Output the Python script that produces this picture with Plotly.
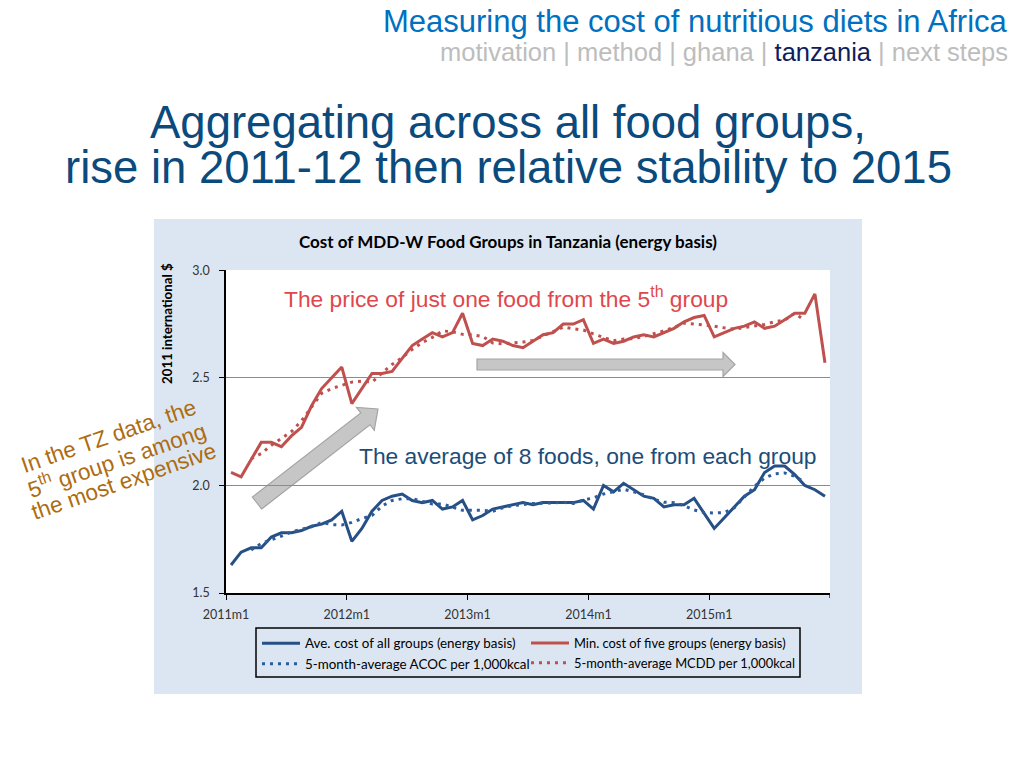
import math
import numpy as np
import plotly.graph_objects as go

# ---------------- data ----------------
months = [f"{y}m{m}" for y in range(2011, 2016) for m in range(1, 13)]

ave_cost_all = [1.63, 1.69, 1.71, 1.71, 1.76, 1.78, 1.78, 1.79, 1.81, 1.82,
                1.84, 1.88, 1.74, 1.80, 1.88, 1.93, 1.95, 1.96, 1.93, 1.92,
                1.93, 1.89, 1.90, 1.93, 1.84, 1.86, 1.89, 1.90, 1.91, 1.92,
                1.91, 1.92, 1.92, 1.92, 1.92, 1.93, 1.89, 2.00, 1.97, 2.01,
                1.98, 1.95, 1.94, 1.90, 1.91, 1.91, 1.94, 1.87, 1.80, 1.85,
                1.90, 1.95, 1.98, 2.06, 2.09, 2.09, 2.05, 2.00, 1.98, 1.95]

min_cost_five = [2.06, 2.04, 2.12, 2.20, 2.20, 2.18, 2.23, 2.27, 2.37, 2.45,
                 2.50, 2.55, 2.38, 2.45, 2.52, 2.52, 2.53, 2.59, 2.65, 2.68,
                 2.71, 2.69, 2.71, 2.80, 2.66, 2.65, 2.68, 2.67, 2.65, 2.64,
                 2.67, 2.70, 2.71, 2.75, 2.75, 2.77, 2.66, 2.68, 2.66, 2.67,
                 2.69, 2.70, 2.69, 2.71, 2.73, 2.76, 2.78, 2.79, 2.69, 2.71,
                 2.73, 2.74, 2.76, 2.73, 2.74, 2.77, 2.80, 2.80, 2.89, 2.57]

acoc_5m = [None, None, 1.700, 1.730, 1.748, 1.764, 1.784, 1.796, 1.808, 1.828,
           1.818, 1.816, 1.828, 1.846, 1.860, 1.904, 1.930, 1.938, 1.938, 1.926,
           1.914, 1.914, 1.898, 1.884, 1.884, 1.884, 1.880, 1.896, 1.906, 1.912,
           1.916, 1.918, 1.918, 1.922, 1.916, 1.932, 1.942, 1.960, 1.970, 1.982,
           1.970, 1.956, 1.936, 1.922, 1.920, 1.906, 1.886, 1.874, 1.872, 1.874,
           1.896, 1.948, 1.996, 2.034, 2.054, 2.058, 2.042, 2.014, None, None]

mcdd_5m = [None, None, 2.124, 2.148, 2.186, 2.216, 2.250, 2.300, 2.364, 2.428,
           2.450, 2.466, 2.480, 2.484, 2.480, 2.522, 2.562, 2.594, 2.632, 2.664,
           2.688, 2.718, 2.714, 2.702, 2.700, 2.692, 2.662, 2.658, 2.662, 2.666,
           2.674, 2.694, 2.716, 2.736, 2.728, 2.722, 2.704, 2.688, 2.672, 2.680,
           2.682, 2.692, 2.704, 2.718, 2.734, 2.754, 2.750, 2.746, 2.740, 2.732,
           2.726, 2.734, 2.740, 2.748, 2.760, 2.768, 2.800, 2.766, None, None]

tick_months = ["2011m1", "2012m1", "2013m1", "2014m1", "2015m1"]
y_ticks = [1.5, 2.0, 2.5, 3.0]

side_note_lines = ["In the TZ data, the", "5<sup>th</sup> group is among", "the most expensive"]

# ---------------- layout geometry (page pixels) ----------------
OFF = 8                      # default body margin of the html page
W, H = 1024 - 2 * OFF, 768 - 2 * OFF
L, R, T, B = 226, 830, 270, 593   # plot area in page pixels


def P(x):
    return (x - OFF) / W


def Q(y):
    return 1 - (y - OFF) / H


BLUE = "#264f86"
RED = "#c0504d"
CHART_BG = "#dce6f2"
FONT_CHART = "Lato"
FONT_SLIDE = "Liberation Sans"

xpos = np.arange(len(months)) + 0.5

fig = go.Figure()
fig.add_trace(go.Scatter(x=xpos, y=ave_cost_all, mode="lines", text=months,
                         name="Ave. cost of all groups (energy basis)", legend="legend",
                         line=dict(color=BLUE, width=3)))
fig.add_trace(go.Scatter(x=xpos, y=min_cost_five, mode="lines", text=months,
                         name="Min. cost of five groups (energy basis)", legend="legend2",
                         line=dict(color=RED, width=3)))
fig.add_trace(go.Scatter(x=xpos, y=acoc_5m, mode="lines", text=months,
                         name="5-month-average ACOC per 1,000kcal", legend="legend",
                         line=dict(color="#2d5c9a", width=3, dash="3px,5px")))
fig.add_trace(go.Scatter(x=xpos, y=mcdd_5m, mode="lines", text=months,
                         name="5-month-average MCDD per 1,000kcal", legend="legend2",
                         line=dict(color=RED, width=3, dash="3px,5px")))

tick_idx = [months.index(m) for m in tick_months]


def arrow_path(x0, y0, x1, y1, sw, hw, hl):
    dx, dy = x1 - x0, y1 - y0
    ln = math.hypot(dx, dy)
    ux, uy = dx / ln, dy / ln
    nx, ny = -uy, ux
    bx, by = x1 - ux * hl, y1 - uy * hl
    pts = [(x0 + nx * sw / 2, y0 + ny * sw / 2), (bx + nx * sw / 2, by + ny * sw / 2),
           (bx + nx * hw / 2, by + ny * hw / 2), (x1, y1),
           (bx - nx * hw / 2, by - ny * hw / 2), (bx - nx * sw / 2, by - ny * sw / 2),
           (x0 - nx * sw / 2, y0 - ny * sw / 2)]
    return "M " + " L ".join(f"{P(a):.5f},{Q(b):.5f}" for a, b in pts) + " Z"


shapes = [
    dict(type="rect", xref="paper", yref="paper", x0=P(154), x1=P(862),
         y0=Q(694), y1=Q(219), fillcolor=CHART_BG, line=dict(width=0), layer="below"),
    dict(type="rect", xref="paper", yref="paper", x0=P(L), x1=P(R), y0=Q(B), y1=Q(T),
         fillcolor="white", line=dict(width=0), layer="below"),
    dict(type="rect", xref="paper", yref="paper", x0=P(256), x1=P(800),
         y0=Q(677), y1=Q(628), line=dict(color="black", width=1.5), layer="above"),
    # closing tick at the right end of the x axis
    dict(type="line", xref="x", yref="paper", x0=len(months), x1=len(months),
         y0=Q(B), y1=Q(B + 5), line=dict(color="black", width=1.2)),
    dict(type="path", xref="paper", yref="paper",
         path=arrow_path(257, 503, 378, 409, 15, 29, 16),
         fillcolor="#c6c6c6", line=dict(color="#a4a4a4", width=1.2), layer="below"),
    dict(type="path", xref="paper", yref="paper",
         path=arrow_path(477, 364.5, 735, 364.5, 11, 24, 12),
         fillcolor="#c6c6c6", line=dict(color="#a4a4a4", width=1.2), layer="below"),
]


def note(text, x, y, size, color, family=FONT_SLIDE, xanchor="center", **kw):
    return dict(text=text, x=P(x), y=Q(y), xref="paper", yref="paper",
                xanchor=xanchor, yanchor="middle", showarrow=False,
                font=dict(family=family, size=size, color=color), **kw)


annotations = [
    note("Measuring the cost of nutritious diets in Africa", 1010, 22, 31, "#0070c0",
         xanchor="right"),
    note("motivation | method | ghana | <span style=\"color:#0f1e5a\">tanzania</span> | next steps",
         1010, 52, 25.5, "#bdbdbd", xanchor="right"),
    note("Aggregating across all food groups,", 508, 122, 45.5, "#0b4a7d"),
    note("rise in 2011-12 then relative stability to 2015", 508, 167, 45.5, "#0b4a7d"),
    note("<b>Cost of MDD-W Food Groups in Tanzania (energy basis)</b>", 508, 241, 17,
         "black", family=FONT_CHART),
    note("<b>2011 international $</b>", 167, 324, 13.3, "black", family=FONT_CHART,
         textangle=-90),
    note("The price of just one food from the 5<sup>th</sup> group", 506, 297, 22.8, "#e0474c"),
    note("The average of 8 foods, one from each group", 588, 456, 22.8, "#1c4d78"),
]

# rotated side note: one annotation per line so that the line spacing is tight
ang = 19.0
perp = (math.sin(math.radians(ang)), math.cos(math.radians(ang)))
mid = (116, 459)
gap = 24
for i, line in enumerate(side_note_lines):
    k = i - 1
    annotations.append(note(line, mid[0] + k * gap * perp[0], mid[1] + k * gap * perp[1],
                            22.5, "#ad6c10", textangle=-ang))

legend_common = dict(orientation="v", yanchor="top", xanchor="left", itemwidth=38,
                     bgcolor="rgba(0,0,0,0)", borderwidth=0, tracegroupgap=0)

fig.update_layout(
    template="none",
    width=W, height=H,
    autosize=False,
    margin=dict(l=0, r=0, t=0, b=0, pad=0),
    paper_bgcolor="white", plot_bgcolor="rgba(0,0,0,0)",
    shapes=shapes, annotations=annotations,
    showlegend=True,
    legend=dict(x=P(257), y=Q(628), font=dict(family=FONT_CHART, size=13.4, color="black"),
                **legend_common),
    legend2=dict(x=P(526), y=Q(628), font=dict(family=FONT_CHART, size=12.9, color="black"),
                 **legend_common),
    xaxis=dict(domain=[P(L), P(R)], range=[0, len(months)], tickmode="array",
               tickvals=tick_idx, ticktext=tick_months, automargin=False,
               showgrid=False, zeroline=False, showline=True, linecolor="black", linewidth=1.5,
               ticks="outside", ticklen=5, tickcolor="black", tickwidth=1.2,
               ticklabelstandoff=4,
               tickfont=dict(family=FONT_CHART, size=12.5, color="#333333")),
    yaxis=dict(domain=[Q(B), Q(T)], range=[1.5, 3.001], tickmode="array", tickvals=y_ticks,
               ticktext=[f"{v:.1f}" for v in y_ticks], automargin=False,
               showgrid=True, gridcolor="#8c8c8c", gridwidth=1, zeroline=False,
               showline=True, linecolor="black", linewidth=1.5,
               ticks="outside", ticklen=5, tickcolor="black", tickwidth=1.2,
               ticklabelstandoff=7,
               tickfont=dict(family=FONT_CHART, size=12.5, color="#333333")),
)

fig.write_html("out.html")
